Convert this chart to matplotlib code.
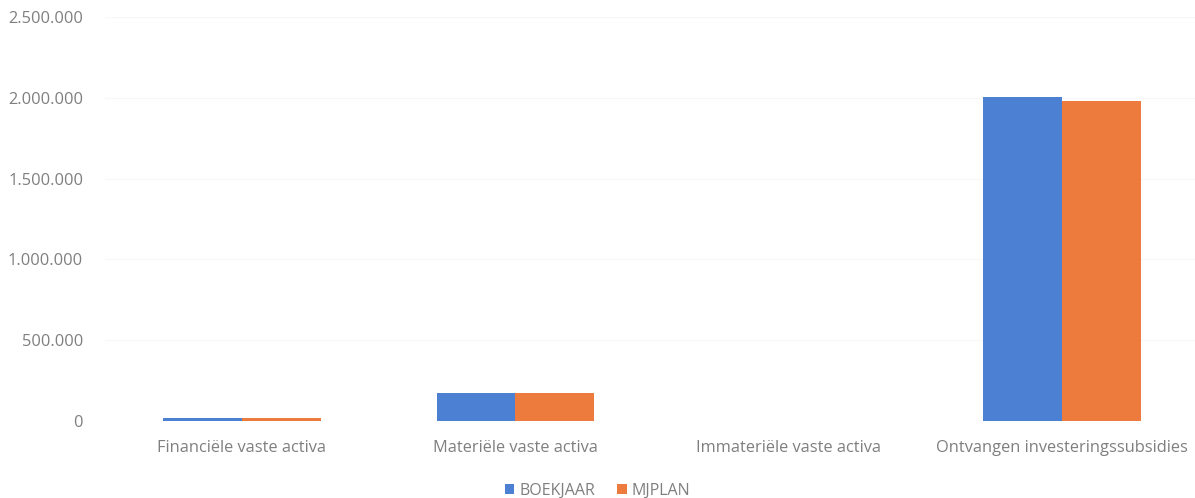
import numpy as np
import matplotlib
matplotlib.use('Agg')
import matplotlib.pyplot as plt
from matplotlib.ticker import FuncFormatter

categories = ['Financiële vaste activa', 'Materiële vaste activa',
              'Immateriële vaste activa', 'Ontvangen investeringssubsidies']
boekjaar = [18000, 172000, 0, 2003000]
mjplan = [20000, 176000, 0, 1978000]
series_names = ['BOEKJAAR', 'MJPLAN']
yticks = [0, 500000, 1000000, 1500000, 2000000, 2500000]

BLUE = '#4b80d3'
ORANGE = '#ed7b3e'
GREY = '#7f7f7f'

plt.rcParams['font.family'] = ['Open Sans', 'DejaVu Sans']

fig = plt.figure(figsize=(11.95, 4.98), dpi=100)
ax = fig.add_axes([0.0881, 0.1546, 0.915, 0.8114])

x = np.arange(len(categories))
w = 0.288
ax.bar(x - w / 2, boekjaar, width=w, color=BLUE, label=series_names[0], zorder=3)
ax.bar(x + w / 2, mjplan, width=w, color=ORANGE, label=series_names[1], zorder=3)

ax.set_xlim(-0.5, len(categories) - 0.5)
ax.set_ylim(0, 2500000)
ax.set_yticks(yticks)
ax.yaxis.set_major_formatter(FuncFormatter(lambda v, p: f'{int(v):,}'.replace(',', '.')))
ax.set_xticks(x)
ax.set_xticklabels(categories)
ax.tick_params(axis='both', length=0, colors=GREY, labelsize=11.8)
ax.tick_params(axis='y', pad=16)
ax.tick_params(axis='x', pad=14)
ax.grid(axis='y', color='#f7f7f7', linewidth=0.8, zorder=0)
for spine in ax.spines.values():
    spine.set_visible(False)

fig.legend(loc='lower center', bbox_to_anchor=(0.5, -0.03), ncol=2, frameon=False,
           fontsize=11.5, labelcolor=GREY, handlelength=0.6, handleheight=0.6,
           handletextpad=0.3, columnspacing=1.4)

fig.savefig('out.png', dpi=100, facecolor='white')
